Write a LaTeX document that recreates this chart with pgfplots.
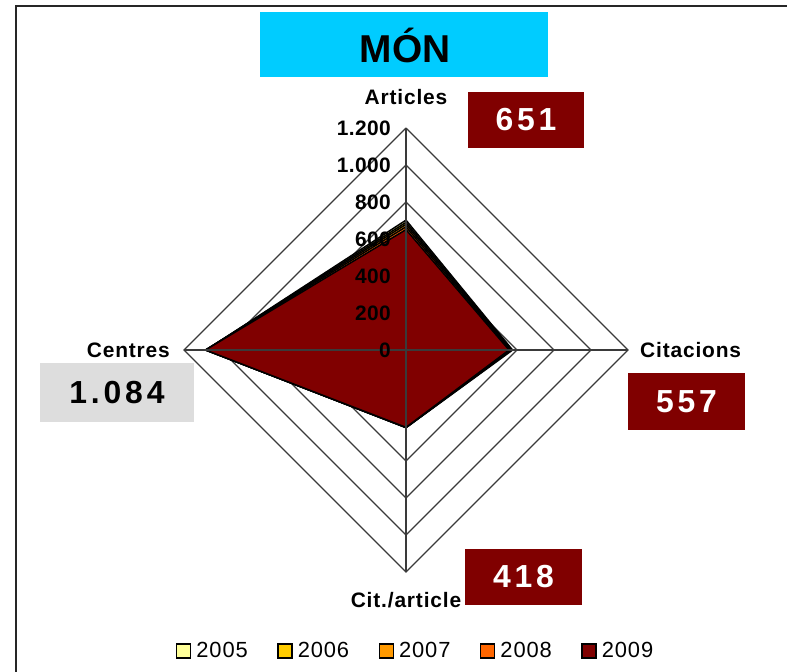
\documentclass[border=0pt]{standalone}
\usepackage{pgfplots}
\pgfplotsset{compat=1.18}
\usepackage{fontspec}
\setmainfont{Liberation Sans}
\newfontfamily\lblf[LetterSpace=4]{Liberation Sans}
\newfontfamily\tkf[LetterSpace=2]{Liberation Sans}
\newfontfamily\valf[LetterSpace=12]{Liberation Sans}
\newfontfamily\legf[LetterSpace=4]{Liberation Sans}
\definecolor{c05}{HTML}{FFFF99}
\definecolor{c06}{HTML}{FFCC00}
\definecolor{c07}{HTML}{FF9900}
\definecolor{c08}{HTML}{FF6600}
\definecolor{c09}{HTML}{800000}
\definecolor{titlec}{HTML}{00CCFF}
\definecolor{lgray}{HTML}{DDDDDD}
\definecolor{gridc}{HTML}{3A3A3A}
\begin{document}
\begin{tikzpicture}
\useasboundingbox (0,0) rectangle (787bp,-672bp);
\begin{axis}[
  at={(184bp,-572bp)}, anchor=south west,
  scale only axis, width=444bp, height=444bp,
  xmin=-1200, xmax=1200, ymin=-1200, ymax=1200,
  hide axis, clip=false,
  legend columns=5,
  legend image code/.code={\draw[#1,draw=black,line width=1.4bp] (0bp,-7bp) rectangle (14bp,7bp); \path (19bp,0bp);},
  legend style={at={(-0.018,-0.178)}, anchor=west, draw=none, fill=none,
    inner sep=0pt, outer sep=0pt,
    nodes={inner sep=0pt, font=\legf\fontsize{22}{25}\selectfont},
    /tikz/every even column/.append style={column sep=29.5bp}},
]
% grid diamonds
\foreach \r in {200,400,600,800,1000,1200}{
  \edef\tmp{\noexpand\addplot[gridc, line width=1.1bp, forget plot] coordinates {(0,\r) (\r,0) (0,-\r) (-\r,0) (0,\r)};}
  \tmp
}
% series
\addplot[fill=c05, draw=black, line width=1.5bp, line join=miter] coordinates {(0,702) (576,0) (0,-420) (-1080,0) (0,702)};
\addlegendentry{2005}
\addplot[fill=c06, draw=black, line width=1.5bp, line join=miter] coordinates {(0,690) (571,0) (0,-419) (-1082,0) (0,690)};
\addlegendentry{2006}
\addplot[fill=c07, draw=black, line width=1.5bp, line join=miter] coordinates {(0,679) (567,0) (0,-419) (-1083,0) (0,679)};
\addlegendentry{2007}
\addplot[fill=c08, draw=black, line width=1.5bp, line join=miter] coordinates {(0,666) (562,0) (0,-418) (-1084,0) (0,666)};
\addlegendentry{2008}
\addplot[fill=c09, draw=black, line width=1.5bp, line join=miter] coordinates {(0,651) (557,0) (0,-418) (-1084,0) (0,651)};
\addlegendentry{2009}
% spokes
\addplot[gridc, line width=1.1bp, forget plot] coordinates {(0,-1200) (0,1200)};
\addplot[gridc, line width=1.1bp, forget plot] coordinates {(-1200,0) (1200,0)};
% tick labels
\foreach \v/\t in {0/0,200/200,400/400,600/600,800/800,1000/1.000,1200/1.200}{
  \edef\tmp{\noexpand\node[anchor=east, inner sep=0pt, font=\noexpand\tkf\noexpand\bfseries\noexpand\fontsize{21}{23}\noexpand\selectfont] at (axis cs:0,\v) [xshift=-15bp] {\t};}
  \tmp
}
\end{axis}
\begin{scope}[x=1bp, y=-1bp]
\draw[line width=2bp, black!85] (16,672) -- (16,6) -- (787,6);
\fill[titlec] (260,12) rectangle (548,77);
\node[anchor=base, inner sep=0pt, font=\bfseries\fontsize{39}{44}\selectfont] at (405,62) {MÓN};
% axis labels
\node[anchor=base, inner sep=0pt, font=\lblf\bfseries\fontsize{21}{24}\selectfont] at (406,104) {Articles};
\node[anchor=base west, inner sep=0pt, font=\lblf\bfseries\fontsize{21}{24}\selectfont] at (640,357) {Citacions};
\node[anchor=base, inner sep=0pt, font=\lblf\bfseries\fontsize{21}{24}\selectfont] at (406,607) {Cit./article};
\node[anchor=base east, inner sep=0pt, font=\lblf\bfseries\fontsize{21}{24}\selectfont] at (170,357) {Centres};
% value boxes
\fill[c09] (468,92) rectangle (584,148);
\node[inner sep=0pt, text=white, font=\valf\bfseries\fontsize{32}{36}\selectfont] at (526,120) {651};
\fill[c09] (628,373) rectangle (745,430);
\node[inner sep=0pt, text=white, font=\valf\bfseries\fontsize{32}{36}\selectfont] at (686.5,401.5) {557};
\fill[c09] (465,549) rectangle (582,605);
\node[inner sep=0pt, text=white, font=\valf\bfseries\fontsize{32}{36}\selectfont] at (523.5,577) {418};
\fill[lgray] (40,363) rectangle (194,422);
\node[inner sep=0pt, text=black, font=\valf\bfseries\fontsize{32}{36}\selectfont] at (117,392.5) {1.084};
\end{scope}
\end{tikzpicture}
\end{document}
